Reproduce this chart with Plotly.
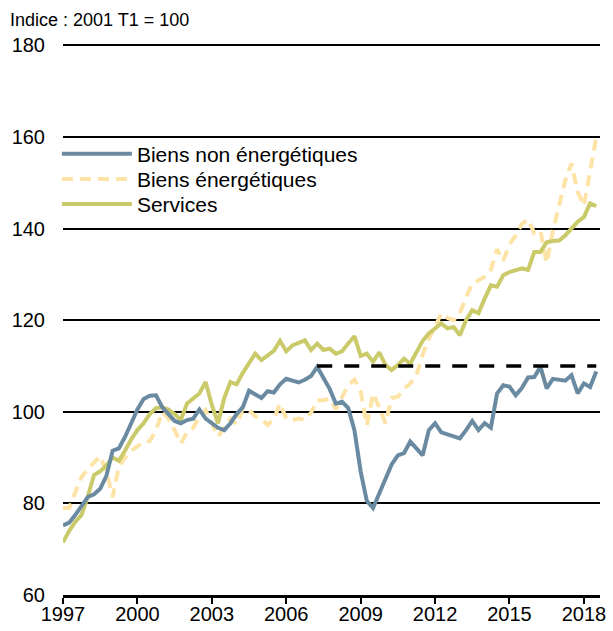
import plotly.graph_objects as go

# Quarterly index, 1997 T1 to 2018 T3 (2001 T1 = 100)
start_year = 1997
n_quarters = 87

biens_non_energetiques = [
    75.2, 75.8, 77.5, 79.3,
    81.4, 82.0, 83.2, 86.0,
    91.5, 92.0, 94.5, 97.5,
    100.5, 102.8, 103.5, 103.6,
    101.0, 99.5, 98.0, 97.5,
    98.2, 98.5, 100.5, 98.5,
    97.5, 96.5, 96.0, 97.5,
    99.5, 101.0, 104.6, 103.8,
    103.0, 104.5, 104.2, 106.0,
    107.2, 106.8, 106.4, 107.0,
    107.8, 109.8, 107.5, 105.0,
    101.8, 102.2, 100.8, 96.0,
    87.0, 80.5, 79.0, 82.0,
    85.5, 88.5, 90.5, 91.0,
    93.5, 92.0, 90.5, 96.0,
    97.5, 95.5, 95.0, 94.5,
    94.2, 96.0, 98.0, 96.0,
    97.5, 96.5, 104.0, 105.8,
    105.5, 103.6, 105.2, 107.5,
    107.6, 109.8, 105.1, 107.2,
    107.0, 106.8, 108.0, 104.0,
    106.2, 105.4, 108.8,
]

biens_energetiques = [
    79.0, 79.0, 82.5, 85.8,
    87.5, 89.0, 90.3, 87.0,
    81.4, 88.0, 90.0, 91.5,
    92.5, 93.4, 93.6, 96.0,
    100.0, 98.5, 96.0, 93.1,
    95.5, 96.5, 99.0, 100.4,
    97.5, 94.6, 96.5, 98.5,
    97.2, 100.7, 100.4, 99.0,
    98.5, 97.1, 98.5, 101.8,
    98.5, 98.2, 98.5, 98.2,
    99.8, 102.5, 102.5, 102.9,
    100.6, 103.4, 105.8, 107.0,
    104.5, 97.0, 104.0, 101.0,
    97.5, 103.0, 103.3, 105.0,
    106.2, 108.0, 112.5, 116.0,
    118.5, 121.5, 120.5, 120.0,
    121.5, 125.0, 128.0, 128.7,
    129.5, 131.0, 135.5, 133.0,
    136.5, 138.5, 141.0, 142.0,
    139.0, 139.5, 132.5, 139.5,
    145.0, 150.5, 154.2, 148.0,
    145.0, 152.0, 160.0,
]

services = [
    71.5, 74.0, 76.0, 77.5,
    81.5, 86.2, 87.0, 88.3,
    90.0, 89.3, 91.5, 94.0,
    96.0, 97.5, 99.5, 100.8,
    101.0, 100.5, 99.5, 98.2,
    101.8, 103.0, 104.0, 106.5,
    101.5, 97.5, 103.0, 106.5,
    106.0, 108.5, 110.5, 112.7,
    111.3, 112.4, 113.3, 115.5,
    113.2, 114.5, 115.0, 115.6,
    113.5, 114.9, 113.5, 113.8,
    112.7, 113.2, 114.9, 116.5,
    112.2, 112.7, 110.9, 113.0,
    110.2, 109.1, 110.2, 111.6,
    110.5, 113.0, 115.5, 117.1,
    118.2, 119.3, 118.2, 118.5,
    116.7, 120.0, 122.2, 121.5,
    124.7, 127.6, 127.3, 129.8,
    130.5, 130.8, 131.3, 131.0,
    134.9, 134.9, 137.0, 137.3,
    137.4, 138.5, 140.0, 141.5,
    142.5, 145.5, 144.9,
]

# pre-crisis peak of non-energy goods, carried forward
ref_level = 110
ref_start = (2007, 2)   # year, quarter
ref_end = (2018, 3)

year_ticks = [1997, 2000, 2003, 2006, 2009, 2012, 2015, 2018]
y_ticks = [60, 80, 100, 120, 140, 160, 180]

quarters = [start_year + i / 4 for i in range(n_quarters)]


def qpos(yq):
    return yq[0] + (yq[1] - 1) / 4


BLUE = "#6a8aa2"
PALE = "#fde3a6"
GREEN = "#cbca6a"
FONT = "Arial, Liberation Sans, sans-serif"

fig = go.Figure()

fig.add_trace(go.Scatter(
    x=quarters, y=biens_energetiques, mode="lines", name="Biens énergétiques",
    line=dict(color=PALE, width=4, dash="11px,7px"), legend="legend2",
))
fig.add_trace(go.Scatter(
    x=quarters, y=services, mode="lines", name="Services",
    line=dict(color=GREEN, width=4), legend="legend3",
))
fig.add_trace(go.Scatter(
    x=quarters, y=biens_non_energetiques, mode="lines", name="Biens non énergétiques",
    line=dict(color=BLUE, width=4), legend="legend",
))
fig.add_trace(go.Scatter(
    x=[qpos(ref_start), qpos(ref_end)], y=[ref_level, ref_level], mode="lines",
    line=dict(color="black", width=3.5, dash="15px,12px"), showlegend=False,
))

# one legend per row so the row spacing follows the original
legend_style = dict(
    x=-0.0114, xanchor="left", yanchor="middle",
    bgcolor="rgba(0,0,0,0)", font=dict(size=21), itemwidth=70,
)

fig.update_layout(
    width=613, height=631, autosize=False,
    margin=dict(l=63, r=13, t=44, b=36),
    paper_bgcolor="white", plot_bgcolor="white",
    font=dict(family=FONT, size=18, color="black"),
    showlegend=True,
    legend=dict(legend_style, y=0.80),
    legend2=dict(legend_style, y=0.7545),
    legend3=dict(legend_style, y=0.709),
    annotations=[dict(
        text="Indice : 2001 T1 = 100", xref="paper", yref="paper",
        x=-0.103, y=1.0, xanchor="left", yanchor="bottom", yshift=12,
        showarrow=False, font=dict(size=18),
    )],
)

fig.update_xaxes(
    range=[1997, 2018.65], tickvals=year_ticks, ticktext=[str(y) for y in year_ticks],
    showgrid=False, zeroline=False, automargin=False,
    showline=True, linecolor="black", linewidth=3,
    ticks="outside", ticklen=6, tickwidth=2, tickcolor="black",
    tickfont=dict(size=20), ticklabelstandoff=-7,
)
fig.update_yaxes(
    range=[60, 180.3], tickvals=y_ticks, showgrid=True, gridcolor="black", gridwidth=1.6,
    zeroline=False, showline=False, ticks="", ticklabelstandoff=17, automargin=False,
    tickfont=dict(size=20),
)

# the page's default 8px body margin would push the figure off the window
fig.write_html(
    "out.html",
    config={"displayModeBar": False},
    post_script="document.body.style.margin = '0';",
)
